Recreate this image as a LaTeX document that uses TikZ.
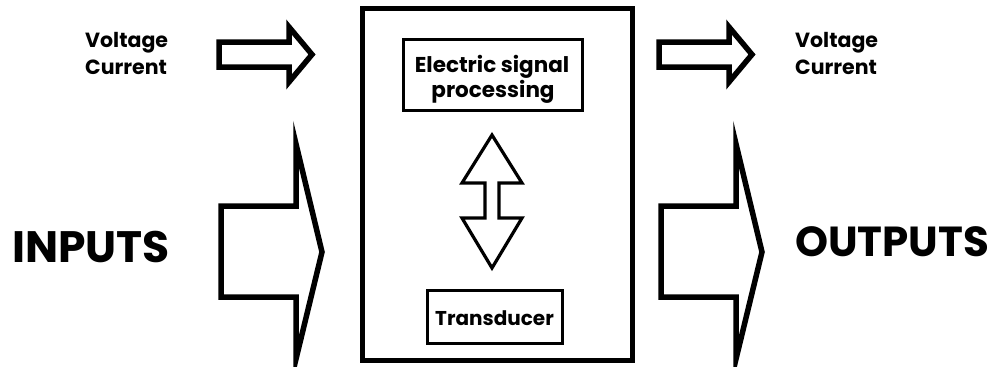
\documentclass[tikz,border=0pt]{standalone}
\usepackage{fontspec}
\setmainfont{Poppins}
\tikzset{
  fatarrow/.style={draw=black, line width=5.5pt, line join=miter, fill=white},
  thinarrow/.style={draw=black, line width=3.2pt, line join=miter, fill=white},
  outerbox/.style={draw=black, line width=5pt},
  innerbox/.style={draw=black, line width=3pt, inner sep=0pt},
  lbl/.style={font=\bfseries, inner sep=0pt, text=black},
  smalltxt/.style={lbl, font=\bfseries\fontsize{20.5}{20.5}\selectfont, anchor=base west},
  boxtxt/.style={lbl, font=\bfseries\fontsize{21.5}{21.5}\selectfont, anchor=base}
}
\begin{document}
\begin{tikzpicture}[x=1pt, y=-1pt]
\useasboundingbox (0,0) rectangle (994,367);

% small arrows for voltage / current
\draw[fatarrow] (219,42) -- (289,42) -- (289,27) -- (312,54.5) -- (289,82) -- (289,67) -- (219,67) -- cycle;
\draw[fatarrow] (659,42) -- (729,42) -- (729,27) -- (752,54.5) -- (729,82) -- (729,67) -- (659,67) -- cycle;

% large input / output arrows
\draw[fatarrow] (221,206) -- (296,206) -- (296,144) -- (322,252) -- (296,359) -- (296,297) -- (221,297) -- cycle;
\draw[fatarrow] (661,206) -- (736,206) -- (736,144) -- (762,252) -- (736,359) -- (736,297) -- (661,297) -- cycle;

% system block
\draw[outerbox] (362,8) rectangle (632,360);
\node[innerbox, minimum width=179pt, minimum height=71pt] (esp) at (492.5,74.5) {};
\node[innerbox, minimum width=135pt, minimum height=53pt] (trans) at (494.5,316.5) {};

\node[boxtxt] (esp1) at (492,72) {Electric signal};
\node[boxtxt] (esp2) at (493,97) {processing};
\node[lbl, font=\bfseries\fontsize{20}{20}\selectfont, anchor=base] (tr) at (494.5,325) {Transducer};

% two-way arrow between the processing block and the transducer
\draw[thinarrow] (492,135) -- (522,183) -- (499,183) -- (499,218) -- (522,218) -- (492,268)
  -- (462,218) -- (485,218) -- (485,183) -- (462,183) -- cycle;

% labels
\node[smalltxt] (v1) at (85,47) {Voltage};
\node[smalltxt] (c1) at (85,74) {Current};
\node[smalltxt] (v2) at (795,47) {Voltage};
\node[smalltxt] (c2) at (795,74) {Current};

\node[lbl, font=\bfseries\fontsize{44}{44}\selectfont, anchor=base west] (in) at (12,262) {INPUTS};
\node[lbl, font=\bfseries\fontsize{42}{42}\selectfont, anchor=base west] (out) at (795,256) {OUTPUTS};
\end{tikzpicture}
\end{document}
